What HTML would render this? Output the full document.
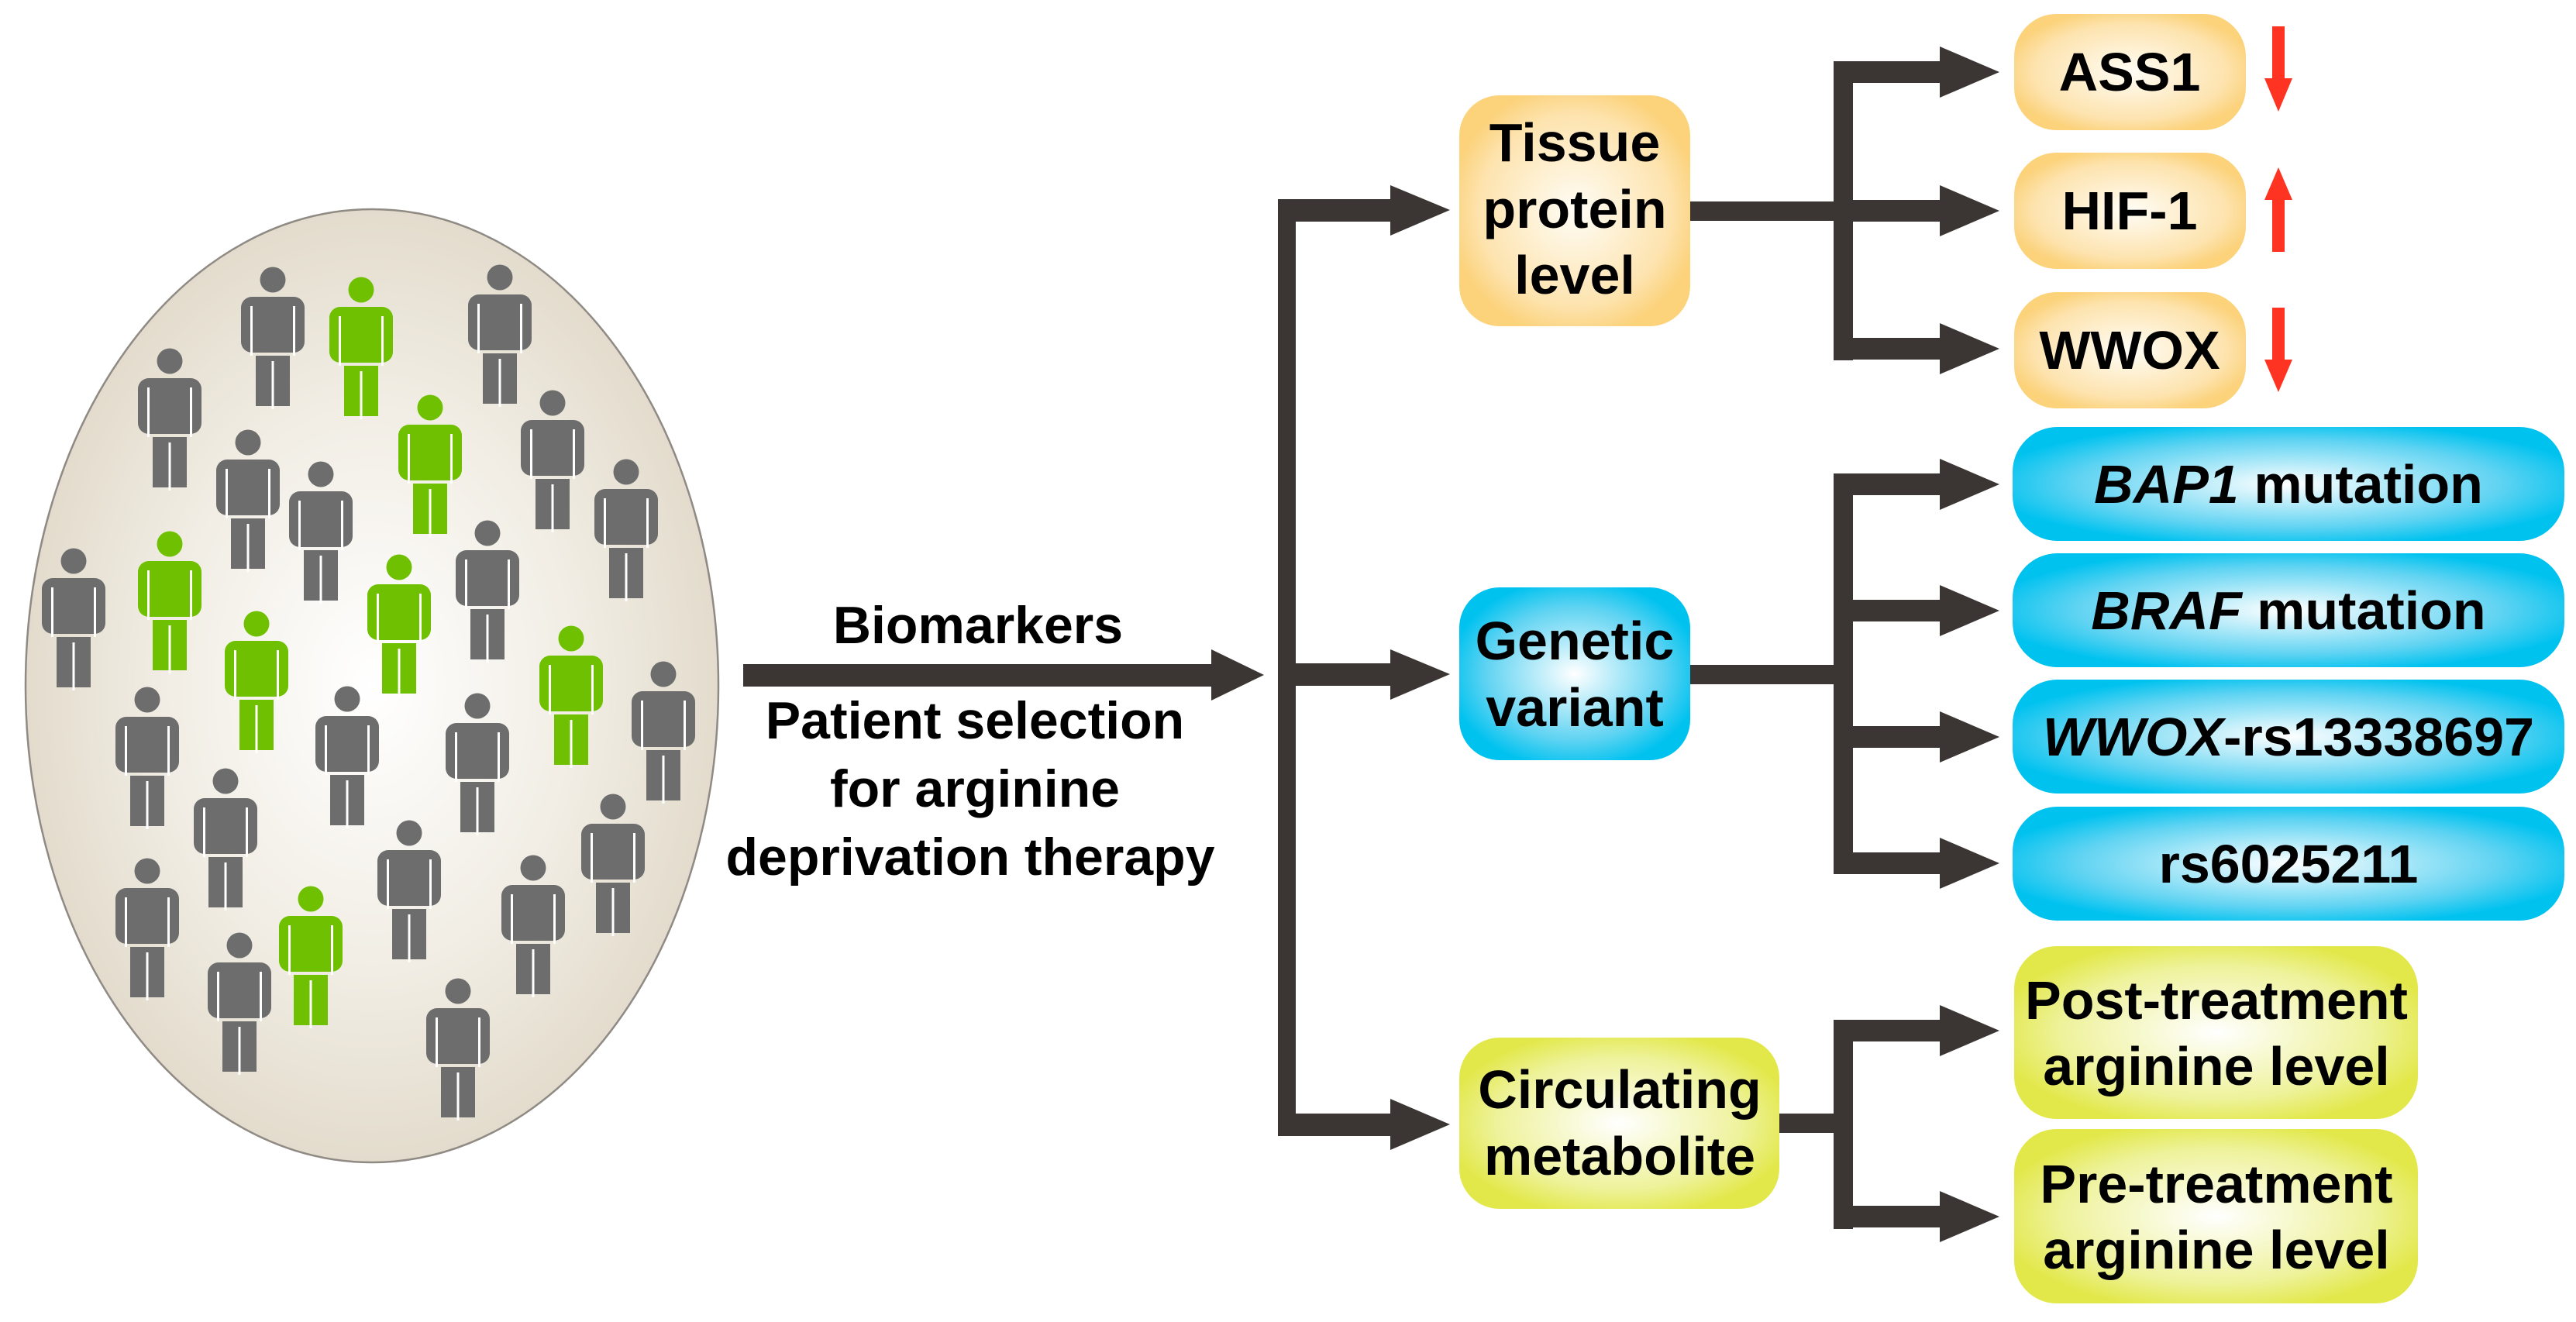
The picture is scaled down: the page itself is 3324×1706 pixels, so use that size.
<!DOCTYPE html>
<html><head><meta charset="utf-8"><style>
html,body{margin:0;padding:0;background:#fff;}
svg{display:block;}
text{font-family:"Liberation Sans",Arial,sans-serif;font-weight:bold;fill:#000;}
</style></head><body>
<svg width="3324" height="1706" viewBox="0 0 3324 1706" xmlns="http://www.w3.org/2000/svg">
<defs>
<radialGradient id="eg" cx="0.5" cy="0.5" r="0.5"><stop offset="0" stop-color="#ffffff"/><stop offset="0.6" stop-color="#f1ede4"/><stop offset="1" stop-color="#e3dccd"/></radialGradient>
<radialGradient id="og" cx="0.5" cy="0.5" r="0.55"><stop offset="0" stop-color="#fffdf6"/><stop offset="0.75" stop-color="#fde3ae"/><stop offset="1" stop-color="#fcd27a"/></radialGradient>
<radialGradient id="bg" cx="0.5" cy="0.5" r="0.55"><stop offset="0" stop-color="#ffffff"/><stop offset="0.7" stop-color="#5fd3f2"/><stop offset="1" stop-color="#00c2ef"/></radialGradient>
<radialGradient id="yg" cx="0.5" cy="0.5" r="0.55"><stop offset="0" stop-color="#ffffff"/><stop offset="0.7" stop-color="#eef29a"/><stop offset="1" stop-color="#e2e84a"/></radialGradient>
<g id="pg">
<circle cx="0" cy="0" r="16.5" fill="#6d6d6d"/>
<rect x="-41" y="22" width="82" height="72" rx="14" fill="#6d6d6d"/>
<rect x="-22" y="98" width="44" height="65" fill="#6d6d6d"/>
<rect x="-29" y="34" width="3" height="64" fill="#fff"/><rect x="26" y="34" width="3" height="64" fill="#fff"/>
<rect x="-1.5" y="105" width="3" height="62" fill="#fff"/>
</g>
<g id="pgr">
<circle cx="0" cy="0" r="16.5" fill="#6fc000"/>
<rect x="-41" y="22" width="82" height="72" rx="14" fill="#6fc000"/>
<rect x="-22" y="98" width="44" height="65" fill="#6fc000"/>
<rect x="-29" y="34" width="3" height="64" fill="#fff"/><rect x="26" y="34" width="3" height="64" fill="#fff"/>
<rect x="-1.5" y="105" width="3" height="62" fill="#fff"/>
</g>
</defs>

<ellipse cx="480" cy="885" rx="447" ry="615" fill="url(#eg)" stroke="#8f8a84" stroke-width="2.5"/>
<use href="#pg" x="352" y="361"/>
<use href="#pgr" x="466" y="374"/>
<use href="#pg" x="645" y="358"/>
<use href="#pg" x="219" y="466"/>
<use href="#pgr" x="555" y="526"/>
<use href="#pg" x="713" y="520"/>
<use href="#pg" x="320" y="571"/>
<use href="#pg" x="414" y="612"/>
<use href="#pg" x="808" y="609"/>
<use href="#pgr" x="219" y="702"/>
<use href="#pg" x="95" y="724"/>
<use href="#pg" x="629" y="688"/>
<use href="#pgr" x="515" y="732"/>
<use href="#pgr" x="331" y="805"/>
<use href="#pgr" x="737" y="824"/>
<use href="#pg" x="856" y="870"/>
<use href="#pg" x="190" y="903"/>
<use href="#pg" x="448" y="902"/>
<use href="#pg" x="616" y="911"/>
<use href="#pg" x="291" y="1008"/>
<use href="#pg" x="791" y="1041"/>
<use href="#pg" x="528" y="1075"/>
<use href="#pg" x="190" y="1124"/>
<use href="#pgr" x="401" y="1160"/>
<use href="#pg" x="688" y="1120"/>
<use href="#pg" x="309" y="1220"/>
<use href="#pg" x="591" y="1279"/>

<!-- main arrow -->
<g fill="#3b3634">
<rect x="959" y="857" width="606" height="29"/>
<polygon points="1563,838 1631,871 1563,904"/>
<rect x="1649" y="257" width="23" height="1209"/>
<rect x="1649" y="257" width="147" height="29"/>
<polygon points="1794,239 1871,271 1794,304"/>
<rect x="1649" y="856" width="147" height="29"/>
<polygon points="1794,838 1871,870 1794,903"/>
<rect x="1649" y="1437" width="147" height="29"/>
<polygon points="1794,1418 1871,1451 1794,1484"/>
<!-- tissue sub -->
<rect x="2181" y="260" width="210" height="25"/>
<rect x="2366" y="79" width="25" height="386"/>
<rect x="2366" y="79" width="139" height="28"/><polygon points="2503,60 2580,93 2503,126"/>
<rect x="2366" y="258" width="139" height="28"/><polygon points="2503,239 2580,272 2503,305"/>
<rect x="2366" y="436" width="139" height="28"/><polygon points="2503,417 2580,450 2503,483"/>
<!-- genetic sub -->
<rect x="2181" y="858" width="210" height="25"/>
<rect x="2366" y="611" width="25" height="517"/>
<rect x="2366" y="611" width="139" height="28"/><polygon points="2503,592 2580,625 2503,658"/>
<rect x="2366" y="774" width="139" height="28"/><polygon points="2503,755 2580,788 2503,821"/>
<rect x="2366" y="937" width="139" height="28"/><polygon points="2503,918 2580,951 2503,984"/>
<rect x="2366" y="1100" width="139" height="28"/><polygon points="2503,1081 2580,1114 2503,1147"/>
<!-- circ sub -->
<rect x="2296" y="1437" width="95" height="25"/>
<rect x="2366" y="1316" width="25" height="270"/>
<rect x="2366" y="1316" width="139" height="28"/><polygon points="2503,1297 2580,1330 2503,1363"/>
<rect x="2366" y="1556" width="139" height="28"/><polygon points="2503,1537 2580,1570 2503,1603"/>
</g>

<text x="1262" y="830" font-size="68" text-anchor="middle">Biomarkers</text>
<text x="1258" y="953" font-size="68" text-anchor="middle">Patient selection</text>
<text x="1258" y="1041" font-size="68" text-anchor="middle">for arginine</text>
<text x="1252" y="1129" font-size="68" text-anchor="middle">deprivation therapy</text>

<!-- level 1 boxes -->
<rect x="1883" y="123" width="298" height="298" rx="52" fill="url(#og)"/>
<text x="2032" y="208" font-size="70" text-anchor="middle">Tissue</text>
<text x="2032" y="294" font-size="70" text-anchor="middle">protein</text>
<text x="2032" y="379" font-size="70" text-anchor="middle">level</text>

<rect x="1883" y="758" width="298" height="223" rx="52" fill="url(#bg)"/>
<text x="2032" y="851" font-size="70" text-anchor="middle">Genetic</text>
<text x="2032" y="937" font-size="70" text-anchor="middle">variant</text>

<rect x="1883" y="1339" width="413" height="221" rx="52" fill="url(#yg)"/>
<text x="2090" y="1430" font-size="70" text-anchor="middle">Circulating</text>
<text x="2090" y="1516" font-size="70" text-anchor="middle">metabolite</text>

<!-- protein boxes -->
<rect x="2599" y="18" width="299" height="150" rx="55" fill="url(#og)"/>
<text x="2748" y="117" font-size="70" text-anchor="middle">ASS1</text>
<rect x="2599" y="197" width="299" height="150" rx="55" fill="url(#og)"/>
<text x="2748" y="296" font-size="70" text-anchor="middle">HIF-1</text>
<rect x="2599" y="377" width="299" height="150" rx="55" fill="url(#og)"/>
<text x="2748" y="476" font-size="70" text-anchor="middle">WWOX</text>

<g fill="#ff3322">
<rect x="2932" y="34" width="16" height="70"/><polygon points="2922,101 2958,101 2940,144"/>
<rect x="2932" y="255" width="16" height="70"/><polygon points="2922,258 2958,258 2940,216"/>
<rect x="2932" y="397" width="16" height="70"/><polygon points="2922,464 2958,464 2940,506"/>
</g>

<!-- genetic boxes -->
<rect x="2597" y="551" width="712" height="147" rx="58" fill="url(#bg)"/>
<text x="2953" y="649" font-size="70" text-anchor="middle"><tspan font-style="italic">BAP1</tspan> mutation</text>
<rect x="2597" y="714" width="712" height="147" rx="58" fill="url(#bg)"/>
<text x="2953" y="812" font-size="70" text-anchor="middle"><tspan font-style="italic">BRAF</tspan> mutation</text>
<rect x="2597" y="877" width="712" height="147" rx="58" fill="url(#bg)"/>
<text x="2953" y="975" font-size="70" text-anchor="middle"><tspan font-style="italic">WWOX</tspan>-rs13338697</text>
<rect x="2597" y="1041" width="712" height="147" rx="58" fill="url(#bg)"/>
<text x="2953" y="1139" font-size="70" text-anchor="middle">rs6025211</text>

<!-- metabolite boxes -->
<rect x="2599" y="1221" width="521" height="223" rx="55" fill="url(#yg)"/>
<text x="2860" y="1315" font-size="70" text-anchor="middle">Post-treatment</text>
<text x="2860" y="1400" font-size="70" text-anchor="middle">arginine level</text>
<rect x="2599" y="1457" width="521" height="225" rx="55" fill="url(#yg)"/>
<text x="2860" y="1552" font-size="70" text-anchor="middle">Pre-treatment</text>
<text x="2860" y="1637" font-size="70" text-anchor="middle">arginine level</text>
</svg>
</body></html>
